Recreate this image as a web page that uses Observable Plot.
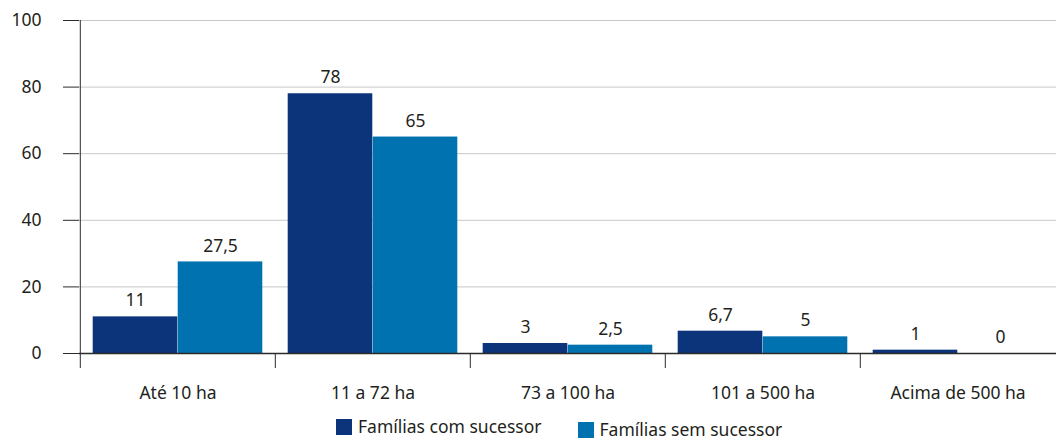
<!DOCTYPE html>
<html><head><meta charset="utf-8">
<script src="https://cdn.jsdelivr.net/npm/d3@7"></script>
<script src="https://cdn.jsdelivr.net/npm/@observablehq/plot@0.6"></script>
<style>
body{margin:0;background:#fff;font-family:"Noto Sans",sans-serif;color:#231f20;}
#wrap{position:relative;width:1056px;height:440px;overflow:hidden;}
#legend{position:absolute;top:417px;left:336px;display:flex;align-items:flex-start;font-size:17.5px;line-height:19px;}
.item{display:flex;align-items:center;}
.sw{width:16px;height:16px;margin-right:6px;}
</style></head><body><div id="wrap"><div id="chart"></div><div id="legend"></div></div>
<script>
const categories = ["Até 10 ha", "11 a 72 ha", "73 a 100 ha", "101 a 500 ha", "Acima de 500 ha"];
const comSucessor = [11, 78, 3, 6.7, 1];
const semSucessor = [27.5, 65, 2.5, 5, 0];
const seriesNames = ["Famílias com sucessor", "Famílias sem sucessor"];
const seriesColors = ["#0b347a", "#0072af"];
const yTicks = [0, 20, 40, 60, 80, 100];

const fmt = v => String(v).replace(".", ",");
const dark = categories.map((c, i) => ({cat: c, value: comSucessor[i]}));
const light = categories.map((c, i) => ({cat: c, value: semSucessor[i]}));

const W = 1056, H = 410, mL = 79, mR = 0, mT = 20, mB = H - 353;
const B = (W - mL - mR) / categories.length;
const bw = 85;
const fs = 17.5;

const chart = Plot.plot({
  width: W, height: H,
  marginLeft: mL, marginRight: mR, marginTop: mT, marginBottom: mB,
  style: {fontFamily: "'Noto Sans', sans-serif", fontSize: fs + "px", color: "#231f20", background: "#fff"},
  x: {domain: categories, padding: 0, label: null},
  y: {domain: [0, 100], label: null},
  marks: [
    Plot.ruleY(yTicks.slice(1), {stroke: "#c8c8c8", strokeWidth: 1}),
    Plot.barY(dark, {x: "cat", y: "value", fill: seriesColors[0], insetLeft: B / 2 - bw, insetRight: B / 2}),
    Plot.barY(light, {x: "cat", y: "value", fill: seriesColors[1], insetLeft: B / 2, insetRight: B / 2 - bw}),
    Plot.ruleY([0], {stroke: "#2b2b2b", strokeWidth: 1.5}),
    Plot.ruleX(categories, {x: d => d, dx: -B / 2, y1: 0, y2: 0, insetBottom: -15, stroke: "#2b2b2b", strokeWidth: 1}),
    Plot.ruleX([categories[0]], {x: d => d, dx: -B / 2, y1: 0, y2: 100, stroke: "#2b2b2b", strokeWidth: 1}),
    Plot.text(dark, {x: "cat", y: "value", text: d => fmt(d.value), dx: -bw / 2, dy: -16, fontSize: fs, fill: "#231f20"}),
    Plot.text(light, {x: "cat", y: "value", text: d => fmt(d.value), dx: bw / 2, dy: -16, fontSize: fs, fill: "#231f20"}),
    Plot.axisY({ticks: yTicks, tickSize: 16, tickPadding: 22, fontSize: fs, stroke: "#2b2b2b", fill: "#231f20", label: null}),
    Plot.axisX({tickSize: 0, tickPadding: 33, fontSize: fs, fill: "#231f20", label: null})
  ]
});
document.getElementById("chart").appendChild(chart);

const legend = document.getElementById("legend");
seriesNames.forEach((name, i) => {
  const item = document.createElement("div");
  item.className = "item";
  item.style.marginRight = i === 0 ? "36px" : "0";
  item.style.marginTop = i === 1 ? "3px" : "0";
  const sw = document.createElement("span");
  sw.className = "sw";
  sw.style.background = seriesColors[i];
  const t = document.createElement("span");
  t.textContent = name;
  item.appendChild(sw); item.appendChild(t);
  legend.appendChild(item);
});
</script></body></html>
